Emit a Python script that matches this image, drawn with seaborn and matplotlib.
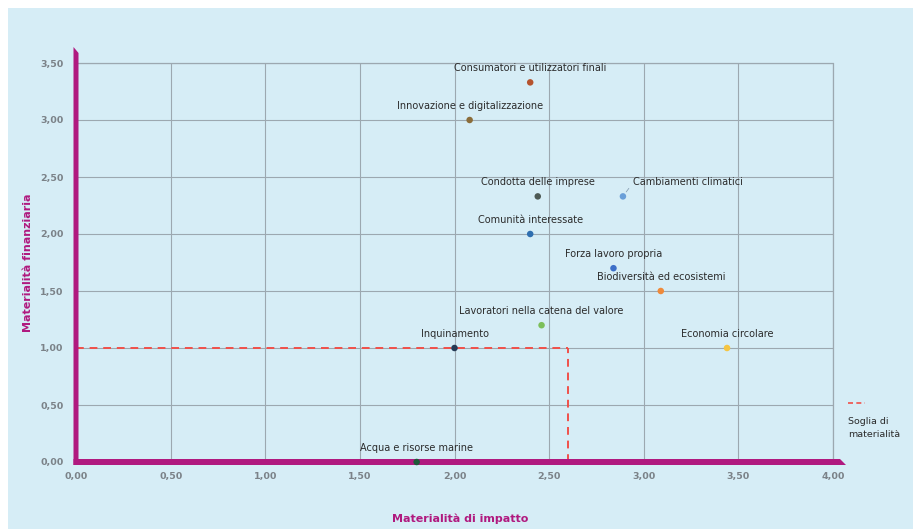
import matplotlib
matplotlib.use("Agg")
import matplotlib.pyplot as plt
from matplotlib.patches import Rectangle, Polygon
import seaborn as sns
import pandas as pd

# Topics on the double-materiality matrix
temi = [
    "Consumatori e utilizzatori finali",
    "Innovazione e digitalizzazione",
    "Condotta delle imprese",
    "Cambiamenti climatici",
    "Comunità interessate",
    "Forza lavoro propria",
    "Biodiversità ed ecosistemi",
    "Lavoratori nella catena del valore",
    "Inquinamento",
    "Economia circolare",
    "Acqua e risorse marine",
]
materialita_impatto = [2.40, 2.08, 2.44, 2.89, 2.40, 2.84, 3.09, 2.46, 2.00, 3.44, 1.80]
materialita_finanziaria = [3.33, 3.00, 2.33, 2.33, 2.00, 1.70, 1.50, 1.20, 1.00, 1.00, 0.00]
colori = ["#b5532e", "#8b6d3a", "#4d5a55", "#6a9fd8", "#2f6fb0", "#3d6fc8",
          "#ef8a3a", "#7cbf5a", "#253a55", "#f5c542", "#1e5a3a"]

# Materiality threshold
soglia_impatto = 2.6
soglia_finanziaria = 1.0

x_ticks = [0, 0.5, 1.0, 1.5, 2.0, 2.5, 3.0, 3.5, 4.0]
y_ticks = [0, 0.5, 1.0, 1.5, 2.0, 2.5, 3.0, 3.5]

sns.set_theme(style="whitegrid")
plt.rcParams["font.family"] = ["DejaVu Sans"]

BG = "#d6edf6"
MAGENTA = "#b0197f"
GRID = "#9ca8b0"
TICK = "#7b8288"
TEXT = "#2b2b2b"
RED = "#f0504a"

df = pd.DataFrame({"tema": temi, "x": materialita_impatto, "y": materialita_finanziaria})

fig = plt.figure(figsize=(9.13, 5.29), dpi=100)
fig.patch.set_facecolor("white")
fig.add_artist(Rectangle((8 / 913, 0), 1, 1 - 8 / 529, transform=fig.transFigure,
                         facecolor=BG, edgecolor="none", zorder=-10))

ax = fig.add_axes([76 / 913, 1 - 462 / 529, (833 - 76) / 913, (462 - 63) / 529])
ax.set_facecolor(BG)
ax.patch.set_alpha(0)

ax.set_xlim(0, 4)
ax.set_ylim(0, 3.5)
ax.set_xticks(x_ticks)
ax.set_yticks(y_ticks)
ax.set_xticklabels([f"{v:.2f}".replace(".", ",") for v in x_ticks])
ax.set_yticklabels([f"{v:.2f}".replace(".", ",") for v in y_ticks])
ax.tick_params(axis="both", length=0, labelsize=6.8, labelcolor=TICK)
ax.tick_params(axis="x", pad=7)
ax.tick_params(axis="y", pad=9)
for lab in ax.get_xticklabels() + ax.get_yticklabels():
    lab.set_fontweight("bold")

ax.grid(True, color=GRID, linewidth=0.8)
for s in ax.spines.values():
    s.set_visible(False)
# right and top border of the grid
ax.axvline(4, color=GRID, linewidth=0.9, zorder=0.5, clip_on=False)
ax.axhline(3.5, color=GRID, linewidth=0.9, zorder=0.5, clip_on=False)

# Threshold lines
ax.plot([0, soglia_impatto], [soglia_finanziaria, soglia_finanziaria],
        color=RED, linestyle=(0, (4, 3)), linewidth=1.4, zorder=2)
ax.plot([soglia_impatto, soglia_impatto], [0, soglia_finanziaria],
        color=RED, linestyle=(0, (4, 3)), linewidth=1.4, zorder=2)

# Thick magenta axes with slanted ends
dx = 4 / (833 - 76)
dy = 3.5 / (462 - 63)
left_bar = Polygon([(-2.5 * dx, -3 * dy), (2.5 * dx, -3 * dy), (2.5 * dx, 3.5 + 10 * dy),
                    (-2.5 * dx, 3.5 + 16 * dy)], closed=True, facecolor=MAGENTA,
                   edgecolor="none", clip_on=False, zorder=3)
bottom_bar = Polygon([(-2.5 * dx, -3 * dy), (4 + 13 * dx, -3 * dy), (4 + 7 * dx, 3 * dy),
                      (-2.5 * dx, 3 * dy)], closed=True, facecolor=MAGENTA,
                     edgecolor="none", clip_on=False, zorder=3)
ax.add_patch(left_bar)
ax.add_patch(bottom_bar)

sns.scatterplot(data=df, x="x", y="y", hue="tema", palette=dict(zip(temi, colori)),
                s=22, edgecolor="none", legend=False, ax=ax, zorder=4, clip_on=False)

for tema, xv, yv in zip(temi, materialita_impatto, materialita_finanziaria):
    if tema == "Cambiamenti climatici":
        ax.annotate(tema, (xv, yv), xytext=(7.5, 10.2), textcoords="offset points",
                    ha="left", va="center", fontsize=7, color=TEXT, zorder=5,
                    arrowprops=dict(arrowstyle="-", color="#8aa0b5", linewidth=0.6,
                                    relpos=(0, 0.5), shrinkA=1.5, shrinkB=4))
    else:
        ax.annotate(tema, (xv, yv), xytext=(0, 10.2), textcoords="offset points",
                    ha="center", va="center", fontsize=7, color=TEXT, zorder=5)

ax.set_xlabel("Materialità di impatto", fontsize=8, fontweight="bold", color=MAGENTA,
              labelpad=20)
ax.xaxis.set_label_coords(0.507, -0.13)
ax.set_ylabel("Materialità finanziaria", fontsize=8, fontweight="bold", color=MAGENTA,
              labelpad=5)

# Legend for the threshold
ax.plot([4.08, 4.17], [0.52, 0.52], color=RED, linestyle=(0, (3, 2)), linewidth=1.2,
        clip_on=False)
ax.text(4.08, 0.30, "Soglia di\nmaterialità", fontsize=6.8, color=TEXT, ha="left",
        va="center", linespacing=1.6, transform=ax.transData, clip_on=False)

fig.savefig("out.png", dpi=100, facecolor=fig.get_facecolor())
